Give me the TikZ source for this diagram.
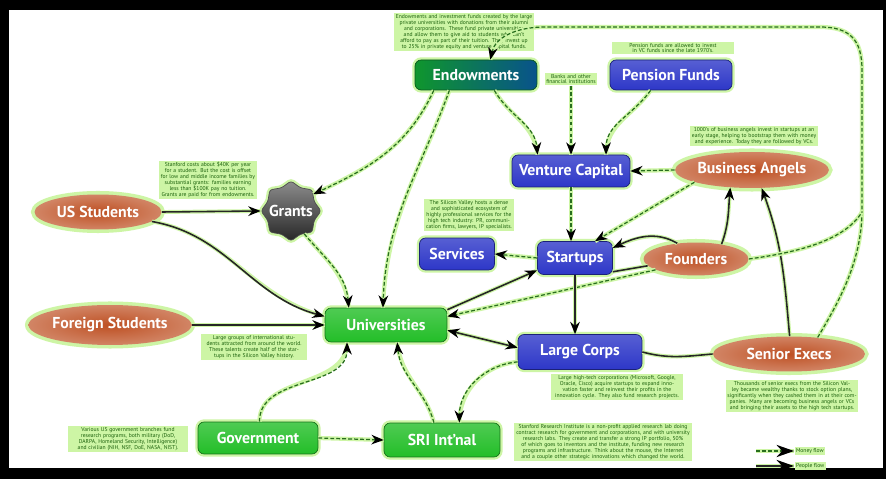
\documentclass[tikz,border=0pt]{standalone}
\usepackage{fontspec}
\setmainfont{PT Sans}
\usetikzlibrary{arrows.meta, shapes.geometric}
\definecolor{gbox}{RGB}{35,190,40}
\definecolor{gdark}{RGB}{15,150,45}
\definecolor{bbox}{RGB}{45,55,200}
\definecolor{oell}{RGB}{190,80,35}
\definecolor{glow}{RGB}{205,245,165}
\definecolor{notefg}{RGB}{25,95,10}
\definecolor{mgreen}{RGB}{40,110,30}

\begin{document}
\begin{tikzpicture}[x=0.02cm,y=-0.02cm,>={Stealth[length=7pt,width=5.5pt,color=black]},
    box/.style={rectangle,rounded corners=3.5pt,inner sep=0pt,text=white,
      font=\fontsize{9}{10}\selectfont\bfseries,preaction={draw=glow,line width=3pt}},
    gnode/.style={box,draw=gbox!60!black,top color=gbox!80!white,bottom color=gbox},
    bnode/.style={box,draw=bbox!60!black,top color=bbox!80!white,bottom color=bbox},
    onode/.style={ellipse,inner sep=0pt,text=white,font=\fontsize{9}{10}\selectfont\bfseries,
      shading=radial,inner color=oell,outer color=oell!70!white,preaction={draw=glow,line width=4pt}},
    note/.style={fill=glow,text=notefg,font=\fontsize{3.2}{3.35}\selectfont,align=center,inner sep=0.8pt},
    money/.style={->,draw=mgreen,line width=0.7pt,dash pattern=on 2.2pt off 1.2pt,
      preaction={draw=glow,line width=2.4pt,solid,-}},
    people/.style={->,draw=black!85,line width=0.9pt,preaction={draw=glow,line width=2.2pt,-}}]
  \useasboundingbox (0,0) rectangle (886,479);
  \fill[black] (0,0) rectangle (886,479);
  \fill[white] (9,10) rectangle (883,468);

  \node[box,draw=gdark!60!black,left color=gdark,right color=gdark!55!blue,minimum width=2.44cm,minimum height=0.6cm] (endow) at (476,75) {Endowments};
  \node[bnode,minimum width=2.44cm,minimum height=0.6cm] (pension) at (671,75) {Pension Funds};
  \node[bnode,minimum width=2.36cm,minimum height=0.64cm] (vc) at (571,171) {Venture Capital};
  \node[bnode,minimum width=1.5cm,minimum height=0.64cm] (services) at (457,254) {Services};
  \node[bnode,minimum width=1.5cm,minimum height=0.66cm] (startups) at (575,258) {Startups};
  \node[bnode,minimum width=2.48cm,minimum height=0.7cm] (corps) at (580,352) {Large Corps};
  \node[gnode,minimum width=2.44cm,minimum height=0.68cm] (univ) at (386,325) {Universities};
  \node[gnode,minimum width=2.4cm,minimum height=0.64cm] (govt) at (258,438) {Government};
  \node[gnode,minimum width=2.32cm,minimum height=0.68cm] (sri) at (442,440) {SRI Int'nal};
  \node[onode,minimum width=2.82cm,minimum height=0.72cm] (angels) at (752,170) {Business Angels};
  \node[onode,minimum width=2.1cm,minimum height=0.66cm] (founders) at (696,259) {Founders};
  \node[onode,minimum width=3.04cm,minimum height=0.7cm] (execs) at (789,354) {Senior Execs};
  \node[onode,minimum width=2.54cm,minimum height=0.7cm] (us) at (98,212) {US Students};
  \node[onode,minimum width=3.08cm,minimum height=0.8cm] (foreign) at (110,325) {Foreign Students};
  \node[star,star points=8,star point ratio=1.2,minimum size=1.2cm,inner sep=-5pt,rounded corners=1.5pt,
    draw=black!70,top color=black!45,bottom color=black!85,text=white,
    font=\fontsize{9}{10}\selectfont\bfseries,preaction={draw=glow,line width=3pt}] (grants) at (291,211) {Grants};

  \node[note,text width=2.75cm] (endownote) at (464,32) {Endowments and investment funds created by the large private universities with donations from their alumni and corporations. These fund private universities and allow them to give aid to students who can't afford to pay as part of their tuition. They invest up to 25\% in private equity and venture capital funds.};
  \node[note,text width=2.4cm] (pensionnote) at (673,48) {Pension funds are allowed to invest in VC funds since the late 1970's.};
  \node[note,text width=1cm] (banks) at (571,79) {Banks and other financial institutions};
  \node[note,text width=2.5cm] (angelsnote) at (754,136) {1000's of business angels invest in startups at an early stage, helping to bootstrap them with money and experience. Today they are followed by VCs.};
  \node[note,text width=1.9cm] (grantsnote) at (208,180) {Stanford costs about \$40K per year for a student. But the cost is offset for low and middle income families by substantial grants: families earning less than \$100K pay no tuition. Grants are paid for from endowments.};
  \node[note,text width=1.75cm] (servicesnote) at (469,215) {The Silicon Valley hosts a dense and sophisticated ecosystem of highly professional services for the high tech industry: PR, communication firms, lawyers, IP specialists.};
  \node[note,text width=2.05cm] (foreignnote) at (254,347) {Large groups of international students attracted from around the world. These talents create half of the startups in the Silicon Valley history.};
  \node[note,text width=2.35cm] (govtnote) at (128,439) {Various US government branches fund research programs, both military (DoD, DARPA, Homeland Security, Intelligence) and civilian (NIH, NSF, DoE, NASA, NIST).};
  \node[note,text width=2.6cm] (corpsnote) at (617,387) {Large high-tech corporations (Microsoft, Google, Oracle, Cisco) acquire startups to expand innovation faster and reinvest their profits in the innovation cycle. They also fund research projects.};
  \node[note,text width=3.5cm] (srinote) at (603,442) {Stanford Research Institute is a non-profit applied research lab doing contract research for government and corporations, and with university research labs. They create and transfer a strong IP portfolio, 50\% of which goes to inventors and the institute, funding new research programs and infrastructure. Think about the mouse, the Internet and a couple other strategic innovations which changed the world.};
  \node[note,text width=2.6cm] (execsnote) at (792,396) {Thousands of senior execs from the Silicon Valley became wealthy thanks to stock option plans, significantly when they cashed them in at their companies. Many are becoming business angels or VCs and bringing their assets to the high tech startups.};

  \draw[money] (endow.200) to[out=245,in=25] (grants.37);
  \draw[money] (endow.210) to[out=250,in=88] (univ.100);
  \draw[money] (endow.320) to[out=300,in=95] (vc.154);
  \draw[money] (banks.south) -- (vc.north);
  \draw[money] (pension.217) to[out=235,in=90] (vc.25);
  \draw[money] (angels.west) -- (vc.east);
  \draw[money] (angels.192) -- (startups.40);
  \draw[money] (vc.south) -- (vc.south |- startups.north);
  \draw[people] (founders.140) to[out=150,in=25] (startups.15);
  \draw[people,-] (startups.-20) -- (founders.188);
  \draw[people] (founders.30) to[out=70,in=265] (angels.219);
  \draw[people] (execs.88) to[out=95,in=290] (angels.298);
  \draw[money] (execs.30) .. controls (840,300) and (862,260) .. (862,210) -- (862,70)
    .. controls (862,40) and (850,27) .. (820,27) -- (545,27) .. controls (515,27) and (495,38) .. (endow.47);
  \draw[money,-] (founders.east) .. controls (800,252) and (845,240) .. (862,212);
  \draw[money] (startups.west) -- (services.east);
  \draw[people] (univ.14) -- (startups.198);
  \draw[money] (founders.195) -- (univ.8);
  \draw[people,<->] (univ.355) -- (corps.176);
  \draw[people] (startups.south) -- (startups.south |- corps.north);
  \draw[people,-] (corps.east) to[out=-15,in=185] (execs.west);
  \draw[money] (corps.189) to[out=185,in=90] (sri.45);
  \draw[money] (sri.115) to[out=105,in=275] (univ.303);
  \draw[money] (govt.85) to[out=90,in=270] (univ.204);
  \draw[money] (govt.east) -- (sri.west);
  \draw[people] (us.east) -- (grants.west);
  \draw[people] (us.-10) to[out=-10,in=165] (univ.172);
  \draw[people] (foreign.east) -- (univ.west);
  \draw[money] (grants.300) to[out=-50,in=95] (univ.155);

  \coordinate (money0) at (756,451);
  \coordinate (money1) at (794,451);
  \coordinate (people0) at (756,466);
  \coordinate (people1) at (794,466);
  \draw[money,-{Stealth[length=10pt,width=7pt,color=black]}] (money0) -- (money1) node[note,right] {Money flow};
  \draw[people,-{Stealth[length=10pt,width=7pt,color=black]}] (people0) -- (people1) node[note,right] {People flow};
\end{tikzpicture}
\end{document}
